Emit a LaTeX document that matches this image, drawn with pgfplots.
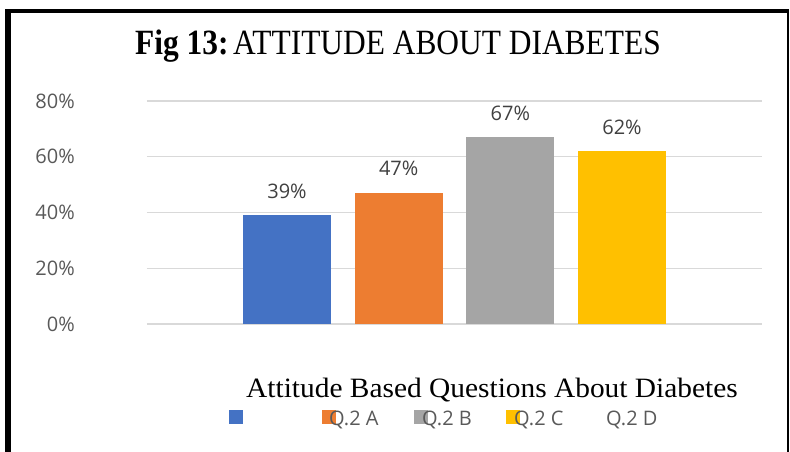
\documentclass[border=0pt]{standalone}
\usepackage{graphicx}
\usepackage{pgfplots}
\pgfplotsset{compat=1.18}
\usepackage{fontspec}
\setmainfont{Liberation Serif}
\newfontfamily\uifont{Open Sans}

\definecolor{qA}{HTML}{4472C4}
\definecolor{qB}{HTML}{ED7D31}
\definecolor{qC}{HTML}{A5A5A5}
\definecolor{qD}{HTML}{FFC000}
\definecolor{ticktext}{HTML}{595959}
\definecolor{labeltext}{HTML}{404040}
\definecolor{gridgray}{HTML}{D9D9D9}

\begin{document}
\begin{tikzpicture}[x=1pt,y=1pt]
\useasboundingbox (0,0) rectangle (790,452);
% frame
\draw[line width=6pt] (8,-5) -- (8,441);
\draw[line width=4.5pt] (5,441) -- (789,441);
\draw[line width=1.5pt] (788,441) -- (788,-5);

\begin{axis}[
  at={(147pt,128pt)}, anchor=south west,
  scale only axis, width=615pt, height=223pt,
  xmin=-0.2537, xmax=5.2537,
  ymin=0, ymax=80,
  ytick={0,20,40,60,80},
  yticklabel={\pgfmathprintnumber{\tick}\%},
  yticklabel style={font=\uifont\fontsize{20}{24}\selectfont, text=ticktext,
    anchor=east, inner sep=0pt, xshift=-72pt},
  /pgf/number format/assume math mode=true,
  xtick=\empty,
  axis line style={draw=none},
  tick style={draw=none},
  ymajorgrids,
  major grid style={draw=gridgray, line width=1.2pt},
  title={\scalebox{0.885}[1]{\fontsize{35.5}{40}\selectfont\textbf{Fig 13:}\hspace{0.15em}ATTITUDE ABOUT DIABETES}},
  title style={at={(axis description cs:0.408,1)}, anchor=base, yshift=40pt, inner sep=0pt},
  xlabel={\scalebox{1.05}[1]{\fontsize{28}{33}\selectfont Attitude Based Questions About Diabetes}},
  xlabel style={at={(axis description cs:0.561,0)}, anchor=base, yshift=-74pt, inner sep=0pt},
  clip=false,
]
\pgfplotsset{bars/.style={ybar, bar shift=0pt, bar width=0.788, draw=none, fill=#1,
  nodes near coords={\pgfmathprintnumber{\pgfplotspointmeta}\%},
  every node near coord/.append style={font=\uifont\fontsize{20}{24}\selectfont,
    text=labeltext, anchor=base, inner sep=0pt, yshift=17pt}}}
\addplot[bars=qA] coordinates {(1,39)};
\addplot[bars=qB] coordinates {(2,47)};
\addplot[bars=qC] coordinates {(3,67)};
\addplot[bars=qD] coordinates {(4,62)};
\end{axis}

% legend
\fill[qA] (229,28) rectangle (243,42);
\fill[qB] (322,28) rectangle (336,42);
\fill[qC] (414,28) rectangle (428,42);
\fill[qD] (506,28) rectangle (520,42);
\begin{scope}[every node/.style={anchor=base west, inner sep=0pt, text=ticktext,
  font=\uifont\fontsize{20}{24}\selectfont}]
\node at (329,26) {Q.2 A};
\node at (422,26) {Q.2 B};
\node at (514,26) {Q.2 C};
\node at (606,26) {Q.2 D};
\end{scope}
\end{tikzpicture}
\end{document}
